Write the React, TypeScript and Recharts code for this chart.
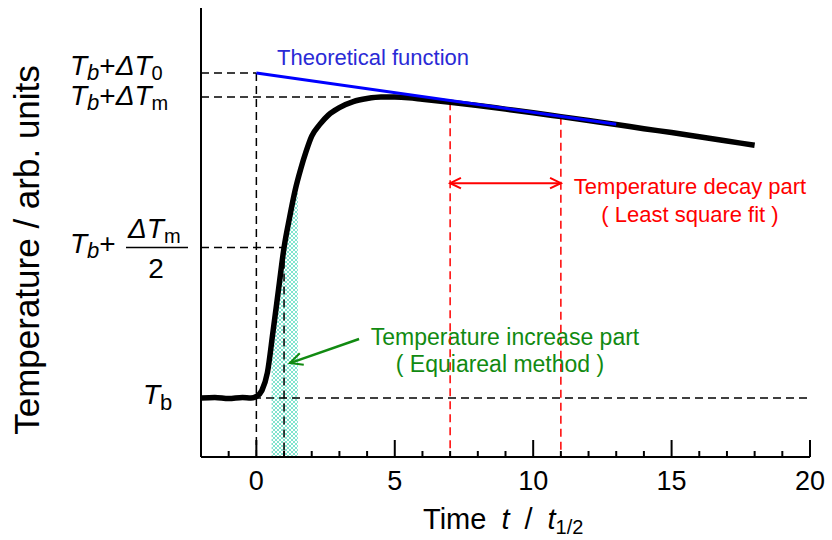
import React from 'react';
import {
  ComposedChart,
  Line,
  Area,
  XAxis,
  YAxis,
  ReferenceLine
} from 'recharts';

// measured temperature rise (normalised: Tb = 0, ΔTm = 1)
const timeSteps = [-2, -1.5, -1, -0.5, -0.2, 0, 0.2, 0.4, 0.6, 0.8, 1.0, 1.2, 1.4, 1.6, 1.8, 2.0, 2.3, 2.6, 3.0, 3.5, 4.0, 4.5, 5.0, 5.5, 6.0, 7, 8, 9, 10, 11, 12, 13, 14, 15, 16, 17, 18];
const measuredTemp = [0.0, 0.002, -0.002, 0.002, 0.0, 0.005, 0.025, 0.085, 0.22, 0.36, 0.5, 0.6, 0.69, 0.76, 0.82, 0.87, 0.91, 0.94, 0.965, 0.985, 0.995, 1.0, 1.0, 0.998, 0.993, 0.983, 0.972, 0.96, 0.948, 0.935, 0.922, 0.909, 0.895, 0.882, 0.868, 0.854, 0.84];

// theoretical function (least square fit of the decay part)
const fitTime = [0, 13];
const fitTemp = [1.08, 0.91];

// equiareal shaded band
const bandTime = [0.55, 0.6, 0.8, 1.0, 1.2, 1.4, 1.5];
const bandTemp = [0.19, 0.22, 0.36, 0.5, 0.6, 0.69, 0.725];

const xTicks = [-1, 0, 1, 2, 3, 4, 5, 6, 7, 8, 9, 10, 11, 12, 13, 14, 15, 16, 17, 18, 19, 20];
const majorTicks = [0, 5, 10, 15, 20];
const yLevels = [0, 0.5, 1, 1.08]; // Tb, Tb+ΔTm/2, Tb+ΔTm, Tb+ΔT0
const yDomain = [-0.196, 1.296];

const decayStart = 7;
const decayEnd = 11;
const halfTime = 1;

const measured = timeSteps.map((t, i) => ({ t, v: measuredTemp[i] }));
const fitted = fitTime.map((t, i) => ({ t, v: fitTemp[i] }));
const band = bandTime.map((t, i) => ({ t, v: bandTemp[i] }));

const FONT = '"Liberation Sans", Arial, sans-serif';

function XTick(props: any) {
  const { x, y, payload } = props;
  const major = majorTicks.includes(payload.value);
  return (
    <g>
      <line x1={x} x2={x} y1={y} y2={y - (major ? 17 : 6)} stroke="#000" strokeWidth={2} />
      {major && (
        <text x={x} y={y + 33} textAnchor="middle" fontSize={27} fontFamily={FONT} fill="#000">
          {payload.value}
        </text>
      )}
    </g>
  );
}

function YTick(props: any) {
  const { y, payload } = props;
  const v = payload.value;
  const left = 70;
  const common = { fontFamily: FONT, fill: '#000' };
  if (v === 1.08) {
    return (
      <text x={left} y={y + 2} fontSize={28} {...common}>
        <tspan fontStyle="italic">T</tspan>
        <tspan fontStyle="italic" fontSize={22} dy={5}>b</tspan>
        <tspan dy={-5}>+</tspan>
        <tspan fontStyle="italic">ΔT</tspan>
        <tspan fontSize={20} dy={5}>0</tspan>
      </text>
    );
  }
  if (v === 1) {
    return (
      <text x={left} y={y + 8} fontSize={28} {...common}>
        <tspan fontStyle="italic">T</tspan>
        <tspan fontStyle="italic" fontSize={22} dy={5}>b</tspan>
        <tspan dy={-5}>+</tspan>
        <tspan fontStyle="italic">ΔT</tspan>
        <tspan fontSize={20} dy={5}>m</tspan>
      </text>
    );
  }
  if (v === 0.5) {
    return (
      <g>
        <text x={left} y={y + 5} fontSize={28} {...common}>
          <tspan fontStyle="italic">T</tspan>
          <tspan fontStyle="italic" fontSize={22} dy={5}>b</tspan>
          <tspan dy={-5}>+</tspan>
        </text>
        <text x={left + 58} y={y - 10} fontSize={28} {...common}>
          <tspan fontStyle="italic">ΔT</tspan>
          <tspan fontSize={20} dy={5}>m</tspan>
        </text>
        <line x1={left + 56} x2={left + 118} y1={y} y2={y} stroke="#000" strokeWidth={1.5} />
        <text x={left + 86} y={y + 30} fontSize={28} textAnchor="middle" {...common}>2</text>
      </g>
    );
  }
  return (
    <text x={143} y={y + 6} fontSize={28} {...common}>
      <tspan fontStyle="italic">T</tspan>
      <tspan fontSize={22} dy={6}>b</tspan>
    </text>
  );
}

function arrowHead(x: number, y: number, fromX: number, fromY: number, size: number, color: string) {
  const ang = Math.atan2(y - fromY, x - fromX);
  const a1 = ang + Math.PI - 0.45;
  const a2 = ang + Math.PI + 0.45;
  return (
    <polyline
      points={`${x + size * Math.cos(a1)},${y + size * Math.sin(a1)} ${x},${y} ${x + size * Math.cos(a2)},${y + size * Math.sin(a2)}`}
      fill="none"
      stroke={color}
      strokeWidth={2}
    />
  );
}

const doubleArrow = (p: any) => (
  <g>
    <line x1={p.x1} y1={p.y1} x2={p.x2} y2={p.y2} stroke="#ff0000" strokeWidth={2} />
    {arrowHead(p.x1, p.y1, p.x2, p.y2, 12, '#ff0000')}
    {arrowHead(p.x2, p.y2, p.x1, p.y1, 12, '#ff0000')}
  </g>
);

const singleArrow = (p: any) => (
  <g>
    <line x1={p.x1} y1={p.y1} x2={p.x2} y2={p.y2} stroke="#118a11" strokeWidth={2.5} />
    {arrowHead(p.x2, p.y2, p.x1, p.y1, 14, '#118a11')}
  </g>
);

export default function App() {
  const dash = { stroke: '#000', strokeWidth: 1.5, strokeDasharray: '8 5' };
  const redDash = { stroke: '#ff0000', strokeWidth: 1.5, strokeDasharray: '8 5' };
  const lo = yDomain[0];
  return (
    <div style={{ position: 'absolute', left: 0, top: 0, width: 832, height: 540, background: '#fff' }}>
      <ComposedChart
        width={832}
        height={540}
        margin={{ top: 8, right: 22, bottom: 0, left: 0 }}
      >
        <defs>
          <pattern id="hatch" width="4" height="4" patternUnits="userSpaceOnUse">
            <path d="M0,0 L4,4 M4,0 L0,4" stroke="#5fdcc2" strokeWidth={0.8} />
          </pattern>
        </defs>
        <XAxis
          type="number"
          dataKey="t"
          domain={[-2, 20]}
          ticks={xTicks}
          interval={0}
          allowDataOverflow
          height={83}
          tickSize={0}
          tickMargin={0}
          tickLine={false}
          tick={<XTick />}
          axisLine={{ stroke: '#000', strokeWidth: 2 }}
        />
        <YAxis
          type="number"
          domain={yDomain}
          ticks={yLevels}
          interval={0}
          allowDataOverflow
          width={201}
          tickSize={0}
          tickMargin={0}
          tickLine={false}
          tick={<YTick />}
          axisLine={{ stroke: '#000', strokeWidth: 2 }}
        />
        <Area
          data={band}
          dataKey="v"
          type="monotone"
          baseValue={lo}
          stroke="none"
          fill="url(#hatch)"
          fillOpacity={1}
          isAnimationActive={false}
        />
        <ReferenceLine segment={[{ x: -2, y: 0 }, { x: 20, y: 0 }]} {...dash} />
        <ReferenceLine segment={[{ x: -2, y: fitTemp[0] }, { x: 0, y: fitTemp[0] }]} {...dash} />
        <ReferenceLine segment={[{ x: 0, y: fitTemp[0] }, { x: 0, y: lo }]} {...dash} />
        <ReferenceLine segment={[{ x: -2, y: 1 }, { x: 3.4, y: 1 }]} {...dash} />
        <ReferenceLine segment={[{ x: -2, y: 0.5 }, { x: halfTime, y: 0.5 }]} {...dash} />
        <ReferenceLine segment={[{ x: halfTime, y: 0.5 }, { x: halfTime, y: lo }]} {...dash} />
        <ReferenceLine segment={[{ x: decayStart, y: 0.983 }, { x: decayStart, y: lo }]} {...redDash} />
        <ReferenceLine segment={[{ x: decayEnd, y: 0.935 }, { x: decayEnd, y: lo }]} {...redDash} />
        <ReferenceLine segment={[{ x: decayStart, y: 0.714 }, { x: decayEnd, y: 0.714 }]} shape={doubleArrow} />
        <ReferenceLine segment={[{ x: 3.71, y: 0.196 }, { x: 1.21, y: 0.116 }]} shape={singleArrow} />
        <Line
          data={measured}
          dataKey="v"
          type="monotone"
          stroke="#000"
          strokeWidth={5.5}
          dot={false}
          isAnimationActive={false}
        />
        <Line
          data={fitted}
          dataKey="v"
          type="linear"
          stroke="#0000ff"
          strokeWidth={3}
          dot={false}
          isAnimationActive={false}
        />
        <text x={277} y={65} fontSize={22} fontFamily={FONT} fill="#2a2ad6">Theoretical function</text>
        <text x={690} y={194} fontSize={22} fontFamily={FONT} fill="#ff0000" textAnchor="middle">Temperature decay part</text>
        <text x={690} y={222} fontSize={22} fontFamily={FONT} fill="#ff0000" textAnchor="middle">( Least square fit )</text>
        <text x={505} y={345} fontSize={23} fontFamily={FONT} fill="#118a11" textAnchor="middle">Temperature increase part</text>
        <text x={500} y={372} fontSize={23} fontFamily={FONT} fill="#118a11" textAnchor="middle">( Equiareal method )</text>
        <text
          transform="translate(39 250) rotate(-90)"
          textAnchor="middle"
          fontSize={35}
          fontFamily={FONT}
          fill="#000"
        >
          Temperature / arb. units
        </text>
        <text x={423} y={529} fontSize={29} fontFamily={FONT} fill="#000">
          Time
          <tspan dx={15} fontStyle="italic">t</tspan>
          <tspan dx={15}>/</tspan>
          <tspan dx={15} fontStyle="italic">t</tspan>
          <tspan fontSize={20} dy={5}>1/2</tspan>
        </text>
      </ComposedChart>
    </div>
  );
}
